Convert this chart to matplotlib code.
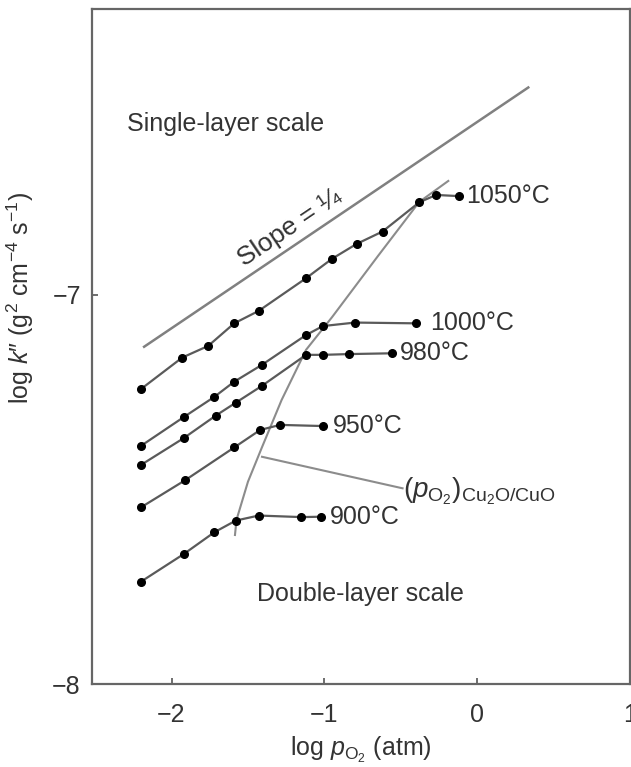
import matplotlib
matplotlib.use("Agg")
import matplotlib.pyplot as plt

plt.rcParams['font.family'] = ['Liberation Sans', 'DejaVu Sans']
plt.rcParams['mathtext.fontset'] = 'custom'
plt.rcParams['mathtext.rm'] = 'Liberation Sans'
plt.rcParams['mathtext.it'] = 'Liberation Sans:italic'

# log pO2 (atm) and log k'' for each temperature
temps = ['1050°C', '1000°C', '980°C', '950°C', '900°C']

x_1050 = [-2.20, -1.93, -1.76, -1.59, -1.43, -1.12, -0.95, -0.79, -0.62, -0.38, -0.27, -0.12]
y_1050 = [-7.242, -7.161, -7.131, -7.073, -7.041, -6.957, -6.907, -6.869, -6.837, -6.762, -6.743, -6.746]

x_1000 = [-2.20, -1.92, -1.72, -1.59, -1.41, -1.12, -1.01, -0.80, -0.40]
y_1000 = [-7.388, -7.314, -7.262, -7.223, -7.180, -7.103, -7.080, -7.071, -7.073]

x_980 = [-2.20, -1.92, -1.71, -1.58, -1.41, -1.12, -1.01, -0.84, -0.56]
y_980 = [-7.437, -7.368, -7.310, -7.277, -7.234, -7.154, -7.154, -7.152, -7.150]

x_950 = [-2.20, -1.91, -1.59, -1.42, -1.29, -1.01]
y_950 = [-7.546, -7.476, -7.392, -7.347, -7.334, -7.337]

x_900 = [-2.20, -1.92, -1.72, -1.58, -1.43, -1.15, -1.02]
y_900 = [-7.737, -7.666, -7.610, -7.580, -7.567, -7.571, -7.570]

series_x = [x_1050, x_1000, x_980, x_950, x_900]
series_y = [y_1050, y_1000, y_980, y_950, y_900]

# reference line of slope 1/4
slope_x = [-2.186, 0.340]
slope_y = [-7.135, -6.465]

# Cu2O/CuO boundary pO2 curve
bound_x = [-0.19, -0.38, -0.65, -0.95, -1.12, -1.28, -1.41, -1.50, -1.575, -1.585]
bound_y = [-6.707, -6.761, -6.900, -7.057, -7.141, -7.270, -7.393, -7.480, -7.578, -7.617]

# leader line to the boundary label
leader_x = [-1.408, -0.489]
leader_y = [-7.416, -7.497]

label_offsets = [(5, 0), (10, 0), (6, 0), (7, 0), (6, 0)]

fig = plt.figure(figsize=(6.31, 7.67), dpi=100)
ax = fig.add_axes([0.1458, 0.1082, 0.853, 0.8801])

txt_col = '#333333'
line_col = '#5a5a5a'
ax.plot(slope_x, slope_y, color='#808080', lw=1.8, solid_capstyle='butt')
ax.plot(bound_x, bound_y, color='#8c8c8c', lw=1.5)
ax.plot(leader_x, leader_y, color='#8c8c8c', lw=1.5)

for xs, ys, name, off in zip(series_x, series_y, temps, label_offsets):
    ax.plot(xs, ys, color=line_col, lw=1.6, marker='o', ms=5.5,
            mfc='black', mec='black', zorder=3)
    ax.annotate(name, (xs[-1], ys[-1]), xytext=off, textcoords='offset points',
                ha='left', va='center', fontsize=18, color=txt_col)

ax.text(-2.29, -6.56, 'Single-layer scale', fontsize=18, color=txt_col,
        ha='left', va='center')
ax.text(-0.765, -7.768, 'Double-layer scale', fontsize=18, color=txt_col,
        ha='center', va='center')
ax.text(-1.229, -6.828, 'Slope = ¼', fontsize=19, color=txt_col,
        ha='center', va='center', rotation=34, rotation_mode='anchor')
ax.text(-0.485, -7.505, r'$(p_{\mathrm{O_2}})_{\mathrm{Cu_2O/CuO}}$', fontsize=20,
        color=txt_col, ha='left', va='center')

ax.set_xlim(-2.52, 1.0)
ax.set_ylim(-8, -6.265)
ax.set_xticks([-2, -1, 0, 1])
ax.set_xticklabels(['−2', '−1', '0', '1'])
ax.set_yticks([-8, -7])
ax.set_yticklabels(['−8', '−7'])
ax.tick_params(direction='in', length=4, width=1.2, color='#555555',
               labelsize=18, labelcolor=txt_col)
ax.tick_params(axis='x', pad=14)
ax.tick_params(axis='y', pad=8)

for sp in ax.spines.values():
    sp.set_color('#666666')
    sp.set_linewidth(1.6)

ax.set_xlabel(r'log $p_{\mathrm{O_2}}$ (atm)', fontsize=18, color=txt_col, labelpad=5)
ax.set_ylabel(r"log $k$″ (g$^2$ cm$^{-4}$ s$^{-1}$)", fontsize=18, color=txt_col)
ax.yaxis.set_label_coords(-0.104, 0.572)

fig.savefig('out.png', dpi=100)
